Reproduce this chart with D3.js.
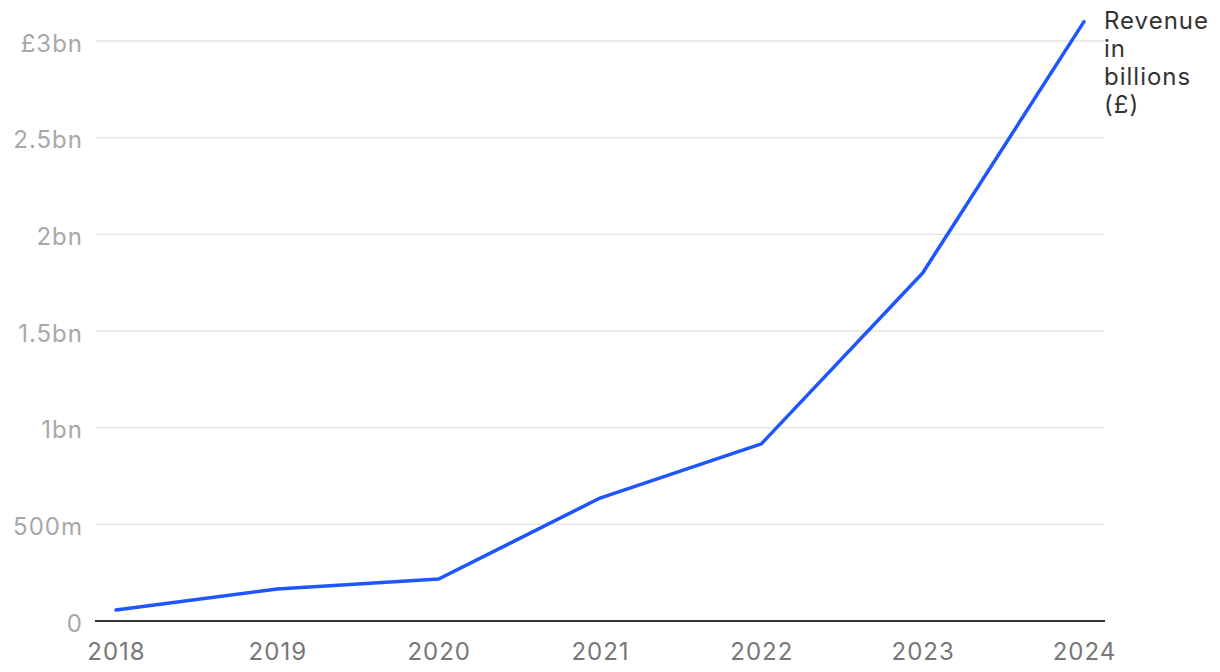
<!DOCTYPE html>
<html><head><meta charset="utf-8">
<script src="https://cdn.jsdelivr.net/npm/d3@7"></script>
<style>body{margin:0;background:#fff;font-family:Inter,Roboto,sans-serif;}</style>
</head><body>
<svg id="c" width="1220" height="672"></svg>
<script>
const years = [2018, 2019, 2020, 2021, 2022, 2023, 2024];
const revenue = [0.057, 0.166, 0.217, 0.636, 0.916, 1.80, 3.10];
const yTicks = [0, 0.5, 1, 1.5, 2, 2.5, 3];
const yTickLabels = ["0", "500m", "1bn", "1.5bn", "2bn", "2.5bn", "£3bn"];
const seriesLabel = ["Revenue", "in", "billions", "(£)"];

const svg = d3.select("#c");
const x = d3.scaleLinear().domain([2018, 2024]).range([116, 1084]);
const y = d3.scaleLinear().domain([0, 3]).range([621, 41]);

const grid = svg.append("g");
grid.selectAll("line").data(yTicks.filter(d => d > 0)).join("line")
  .attr("x1", 96).attr("x2", 1104)
  .attr("y1", d => y(d)).attr("y2", d => y(d))
  .attr("stroke", "#e3e3e3").attr("stroke-width", 1.3);

svg.append("g").selectAll("text").data(yTicks).join("text")
  .attr("x", 83).attr("y", d => y(d) + 10.5)
  .attr("text-anchor", "end").attr("font-size", 24).attr("letter-spacing", 1)
  .attr("fill", "#a8a8a8")
  .text((d, i) => yTickLabels[i]);

svg.append("line").attr("x1", 95).attr("x2", 1105)
  .attr("y1", y(0)).attr("y2", y(0)).attr("stroke", "#333").attr("stroke-width", 2);

svg.append("g").selectAll("text").data(years).join("text")
  .attr("x", d => x(d) + 0.5).attr("y", 660)
  .attr("text-anchor", "middle").attr("font-size", 24).attr("letter-spacing", 1)
  .attr("fill", "#777")
  .text(d => d);

const line = d3.line().x((d, i) => x(years[i])).y(d => y(d));
svg.append("path").datum(revenue).attr("d", line)
  .attr("fill", "none").attr("stroke", "#1f55ff").attr("stroke-width", 3.5)
  .attr("stroke-linejoin", "round").attr("stroke-linecap", "round");

const lab = svg.append("text").attr("x", 1104).attr("y", 29)
  .attr("font-size", 24).attr("letter-spacing", 1).attr("fill", "#333");
lab.selectAll("tspan").data(seriesLabel).join("tspan")
  .attr("x", 1104).attr("dy", (d, i) => i === 0 ? 0 : 28).text(d => d);
</script>
</body></html>
